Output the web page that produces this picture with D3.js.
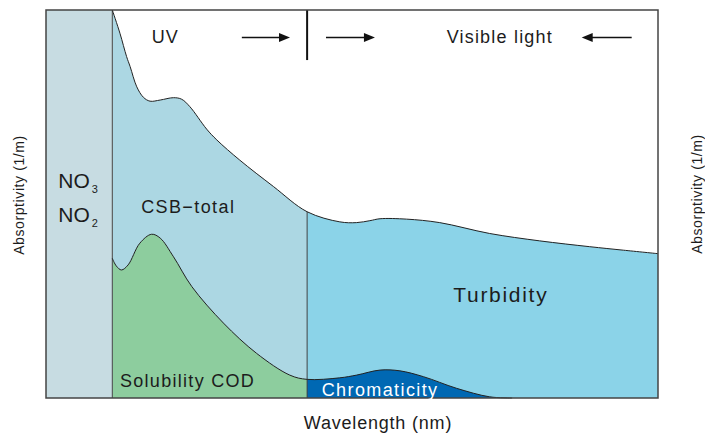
<!DOCTYPE html>
<html>
<head>
<meta charset="utf-8">
<script src="https://cdn.jsdelivr.net/npm/d3@7"></script>
<style>
  body { margin: 0; background: #fff; }
</style>
</head>
<body>
<div id="chart"></div>
<script>
// CSB-total absorption envelope (UV part, then turbidity in the visible range)
const csbWave = [265, 272.5, 279, 282.5, 289, 295.5, 302, 312, 325, 333, 341, 357.5, 367.5, 390, 423, 456,
                 488, 504.5, 517.5, 527.5, 553.5, 586, 635, 684, 733, 766, 800];
const csbAbs  = [100, 94, 88, 85.4, 80.2, 77.5, 76.5, 76.8, 77.4, 77, 75.1, 69.3, 66.5, 61.3, 54.5, 48,
                 45.4, 45.2, 45.7, 46.2, 46.1, 45.2, 42.4, 40.5, 39, 38.1, 37.2];

// soluble COD (UV) continuing into chromaticity (visible)
const codWave = [265, 269, 274, 280.5, 292, 303.5, 312, 325, 343, 374, 406.5, 439, 456,
                 488, 504.5, 527.5, 547, 570, 602.5, 635, 657];
const codAbs  = [36, 34, 33, 34.3, 39.9, 42.2, 41.2, 36.4, 28.7, 19.3, 11.5, 5.9, 4.8,
                 5.2, 5.9, 7.2, 7.0, 5.5, 2.5, 0.3, 0];

// region edges: start, end of NO3/NO2 band, UV/visible split, chromaticity end, end
const regionEdges = [200, 265, 456, 657, 800];

const labels = [
  { text: "CSB\u2212total", w: 293.3, a: 47.8, size: 18, ls: 1.4, fill: "#1c1c1c" },
  { text: "Solubility COD", w: 272.5, a: 2.8, size: 18, ls: 1.3, fill: "#1c1c1c" },
  { text: "Chromaticity", w: 470.3, a: 0.6, size: 18, ls: 1.4, fill: "#fff" },
  { text: "Turbidity", w: 599.3, a: 24.8, size: 21, ls: 1.7, fill: "#1c1c1c" },
  { text: "UV", w: 303.6, a: 91.4, size: 18, ls: 1, fill: "#1c1c1c" },
  { text: "Visible light", w: 592.8, a: 91.4, size: 18, ls: 1.2, fill: "#1c1c1c" }
];

// arrows: from -> to (head at "to")
const arrows = [
  { from: 392, to: 439.2, a: 92.9 },
  { from: 474.5, to: 522.5, a: 92.9 },
  { from: 774.2, to: 725.2, a: 92.9 }
];

const csb = csbWave.map((w, i) => ({ w, a: csbAbs[i] }));
const cod = codWave.map((w, i) => ({ w, a: codAbs[i] }));

const width = 705, height = 433;
const margin = { top: 10, right: 47, bottom: 35, left: 46 };

const svg = d3.select("#chart")
  .append("svg")
  .attr("width", width)
  .attr("height", height)
  .style("font-family", "'Liberation Sans', Arial, Helvetica, sans-serif");

const x = d3.scaleLinear().domain([200, 800]).range([margin.left, width - margin.right]);
const y = d3.scaleLinear().domain([0, 100]).range([height - margin.bottom, margin.top]);

const defs = svg.append("defs");
function clipX(id, w0, w1) {
  defs.append("clipPath").attr("id", id)
    .append("rect")
    .attr("x", x(w0)).attr("y", y(100))
    .attr("width", x(w1) - x(w0)).attr("height", y(0) - y(100));
  return `url(#${id})`;
}

const curve = d3.curveCatmullRom.alpha(0.5);
const area = d3.area().x(d => x(d.w)).y0(y(0)).y1(d => y(d.a)).curve(curve);
const line = d3.line().x(d => x(d.w)).y(d => y(d.a)).curve(curve);

// NO3 / NO2 band
svg.append("rect")
  .attr("x", x(regionEdges[0]))
  .attr("y", y(100))
  .attr("width", x(regionEdges[1]) - x(regionEdges[0]))
  .attr("height", y(0) - y(100))
  .attr("fill", "#c7dce2");

// CSB-total (UV) and turbidity (visible)
svg.append("path").datum(csb)
  .attr("d", area).attr("fill", "#acd7e3")
  .attr("clip-path", clipX("clipUV", regionEdges[1], regionEdges[2]));
svg.append("path").datum(csb)
  .attr("d", area).attr("fill", "#8bd3e8")
  .attr("clip-path", clipX("clipVis", regionEdges[2], regionEdges[4]));

// soluble COD and chromaticity
svg.append("path").datum(cod)
  .attr("d", area).attr("fill", "#8dcd9e")
  .attr("clip-path", clipX("clipCod", regionEdges[1], regionEdges[2]));
svg.append("path").datum(cod)
  .attr("d", area).attr("fill", "#0068b3")
  .attr("clip-path", clipX("clipChroma", regionEdges[2], regionEdges[4]));

// dividers
svg.append("line")
  .attr("x1", x(regionEdges[1])).attr("x2", x(regionEdges[1]))
  .attr("y1", y(100)).attr("y2", y(0))
  .attr("stroke", "#444").attr("stroke-width", 1);
svg.append("line")
  .attr("x1", x(regionEdges[2])).attr("x2", x(regionEdges[2]))
  .attr("y1", y(48)).attr("y2", y(0))
  .attr("stroke", "#444").attr("stroke-width", 1);
svg.append("line")
  .attr("x1", x(regionEdges[2])).attr("x2", x(regionEdges[2]))
  .attr("y1", y(100)).attr("y2", y(87.1))
  .attr("stroke", "#111").attr("stroke-width", 2);

// curves
svg.append("path").datum(csb)
  .attr("d", line).attr("fill", "none")
  .attr("stroke", "#222").attr("stroke-width", 1);
svg.append("path").datum(cod)
  .attr("d", line).attr("fill", "none")
  .attr("stroke", "#222").attr("stroke-width", 1);

// frame
svg.append("rect")
  .attr("x", x(200)).attr("y", y(100))
  .attr("width", x(800) - x(200)).attr("height", y(0) - y(100))
  .attr("fill", "none").attr("stroke", "#444").attr("stroke-width", 1.5);

// arrows
arrows.forEach(d => {
  const dir = Math.sign(d.to - d.from);
  const yy = y(d.a);
  const tip = x(d.to);
  svg.append("line")
    .attr("x1", x(d.from)).attr("x2", tip - dir * 8)
    .attr("y1", yy).attr("y2", yy)
    .attr("stroke", "#111").attr("stroke-width", 1.4);
  svg.append("path")
    .attr("d", `M${tip},${yy} L${tip - dir * 11},${yy - 4.5} L${tip - dir * 11},${yy + 4.5} Z`)
    .attr("fill", "#111");
});

// region labels
labels.forEach(d => {
  svg.append("text")
    .attr("x", x(d.w)).attr("y", y(d.a))
    .style("font-size", d.size + "px")
    .style("letter-spacing", d.ls + "px")
    .attr("fill", d.fill)
    .text(d.text);
});

// NO3 / NO2 with subscripts
[["NO", "3", 54.0], ["NO", "2", 45.4]].forEach(([main, sub, a]) => {
  const t = svg.append("text")
    .attr("x", x(212)).attr("y", y(a))
    .attr("fill", "#1c1c1c")
    .style("font-size", "21px");
  t.append("tspan").text(main);
  t.append("tspan").attr("dx", 2).attr("dy", 5).style("font-size", "11px").text(sub);
});

// axis titles
svg.append("text")
  .attr("x", 378).attr("y", 429)
  .attr("text-anchor", "middle")
  .attr("fill", "#1c1c1c")
  .style("font-size", "18px")
  .style("letter-spacing", "0.8px")
  .text("Wavelength (nm)");

svg.append("text")
  .attr("transform", "translate(24,195) rotate(-90)")
  .attr("text-anchor", "middle")
  .attr("fill", "#1c1c1c")
  .style("font-size", "14px")
  .style("letter-spacing", "0.6px")
  .text("Absorptivity (1/m)");

svg.append("text")
  .attr("transform", "translate(702,194) rotate(-90)")
  .attr("text-anchor", "middle")
  .attr("fill", "#1c1c1c")
  .style("font-size", "14px")
  .style("letter-spacing", "0.6px")
  .text("Absorptivity (1/m)");
</script>
</body>
</html>
